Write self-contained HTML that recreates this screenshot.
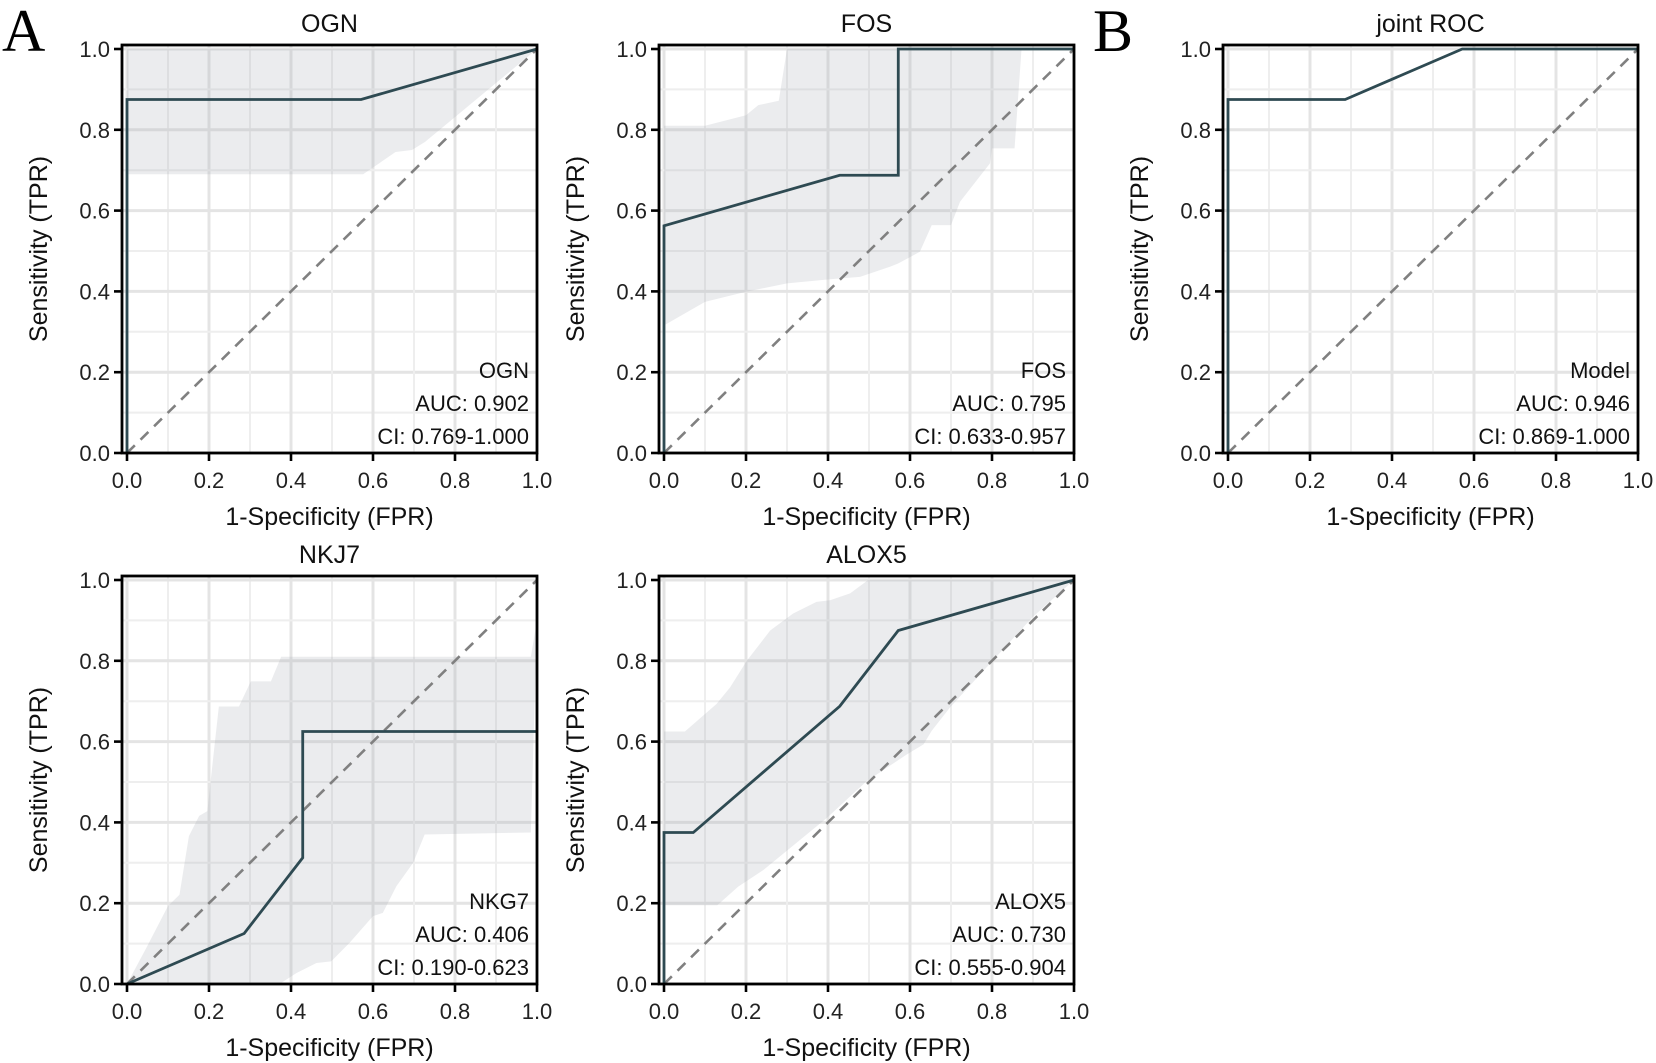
<!DOCTYPE html>
<html><head><meta charset="utf-8">
<style>
html,body{margin:0;padding:0;background:#fff;}
svg{display:block;font-family:"Liberation Sans",sans-serif;}
</style></head>
<body>
<svg id="fig" width="1656" height="1063" viewBox="0 0 1656 1063" xmlns="http://www.w3.org/2000/svg">
<text x="2" y="51" font-family="Liberation Serif, serif" font-size="60" fill="#000">A</text>
<text x="1093" y="51" font-family="Liberation Serif, serif" font-size="60" fill="#000">B</text>
</svg>
<script>
// ---- data ----
const panelTitles = ["OGN", "FOS", "joint ROC", "NKJ7", "ALOX5"];
const panelLabels = ["OGN", "FOS", "Model", "NKG7", "ALOX5"];
const aucValues = ["0.902", "0.795", "0.946", "0.406", "0.730"];
const ciValues = ["0.769-1.000", "0.633-0.957", "0.869-1.000", "0.190-0.623", "0.555-0.904"];
const tickValues = [0, 0.2, 0.4, 0.6, 0.8, 1.0];
const tickLabels = ["0.0", "0.2", "0.4", "0.6", "0.8", "1.0"];

const ognFpr = [0, 0, 0.571, 1];
const ognTpr = [0, 0.875, 0.875, 1];
const fosFpr = [0, 0, 0.4286, 0.5714, 0.5714, 1];
const fosTpr = [0, 0.5625, 0.6875, 0.6875, 1, 1];
const jointFpr = [0, 0, 0.2857, 0.5714, 1];
const jointTpr = [0, 0.875, 0.875, 1, 1];
const nkgFpr = [0, 0.2857, 0.4286, 0.4286, 1];
const nkgTpr = [0, 0.125, 0.3125, 0.625, 0.625];
const aloxFpr = [0, 0, 0.0714, 0.4286, 0.5714, 1];
const aloxTpr = [0, 0.375, 0.375, 0.6875, 0.875, 1];

const ognBandUpper = [[0,1],[1,1]];
const ognBandLower = [[0,0.69],[0.576,0.69],[0.655,0.745],[0.695,0.75],[0.727,0.77],[1,1]];
const fosBandUpper = [[0,0.81],[0.1,0.81],[0.2,0.836],[0.23,0.861],[0.28,0.872],[0.3,1],[0.872,1]];
const fosBandLower = [[0,0.316],[0.1,0.374],[0.2,0.399],[0.3,0.42],[0.405,0.43],[0.478,0.436],[0.551,0.461],[0.571,0.469],[0.624,0.498],[0.653,0.564],[0.70,0.564],[0.722,0.622],[0.795,0.717],[0.8,0.754],[0.855,0.754],[0.872,1]];
const nkgBandUpper = [[0,0],[0.047,0.089],[0.1,0.193],[0.128,0.221],[0.151,0.366],[0.176,0.416],[0.196,0.428],[0.224,0.687],[0.273,0.687],[0.302,0.749],[0.351,0.749],[0.376,0.81],[0.985,0.81],[1,0.9]];
const nkgBandLower = [[0,0],[0.372,0],[0.413,0.027],[0.462,0.052],[0.498,0.056],[0.543,0.102],[0.6,0.168],[0.624,0.176],[0.657,0.242],[0.698,0.3],[0.726,0.37],[0.985,0.375],[1,0.9]];
const aloxBandUpper = [[0,0.625],[0.051,0.625],[0.128,0.693],[0.161,0.734],[0.202,0.8],[0.259,0.875],[0.315,0.917],[0.372,0.946],[0.405,0.95],[0.454,0.967],[0.498,1],[1,1]];
const aloxBandLower = [[0,0.195],[0.13,0.195],[0.181,0.241],[0.242,0.282],[0.397,0.411],[0.494,0.502],[0.592,0.568],[0.633,0.593],[0.653,0.627],[0.698,0.685],[0.795,0.793],[0.9,0.909],[1,1]];

const curvesFpr = [ognFpr, fosFpr, jointFpr, nkgFpr, aloxFpr];
const curvesTpr = [ognTpr, fosTpr, jointTpr, nkgTpr, aloxTpr];
const bandsUpper = [ognBandUpper, fosBandUpper, null, nkgBandUpper, aloxBandUpper];
const bandsLower = [ognBandLower, fosBandLower, null, nkgBandLower, aloxBandLower];

// ---- layout ----
const colX = [127, 664, 1228];
const rowY = [49, 580];
const W = 410, H = 404;
const panelPos = [[0,0],[1,0],[2,0],[0,1],[1,1]];

const NS = "http://www.w3.org/2000/svg";
const svg = document.getElementById("fig");
function mk(tag, attrs, parent) {
  const e = document.createElementNS(NS, tag);
  for (const k in attrs) e.setAttribute(k, attrs[k]);
  (parent || svg).appendChild(e);
  return e;
}

panelPos.forEach((pp, i) => {
  const x0 = colX[pp[0]], y1 = rowY[pp[1]];
  const y0 = y1 + H, x1 = x0 + W;
  const sx = v => x0 + v * W;
  const sy = v => y0 - v * H;
  const g = mk("g", {});
  
  
  const fl = x0 - 5, ft = y1 - 4;
  for (let k = 0; k <= 10; k++) {
    const v = k / 10, major = k % 2 === 0;
    const col = major ? "#e4e4e4" : "#eeeeee", w = major ? 3 : 2;
    const gl = mk("line", {x1: sx(v), x2: sx(v), y1: ft, y2: y0, stroke: col, "stroke-width": w}, g);
    
    
    const gh = mk("line", {x1: fl, x2: x1, y1: sy(v), y2: sy(v), stroke: col, "stroke-width": w}, g);
    
    
  }
  if (bandsUpper[i]) {
    const pts = bandsUpper[i].map(p => sx(p[0]) + "," + sy(p[1]))
      .concat(bandsLower[i].slice().reverse().map(p => sx(p[0]) + "," + sy(p[1])));
    const b = mk("polygon", {points: pts.join(" "), fill: "#a4aab2", "fill-opacity": 0.22}, g);
    
    
  }
  const d = mk("line", {x1: sx(0), y1: sy(0), x2: sx(1), y2: sy(1), stroke: "#808080", "stroke-width": 2.6, "stroke-dasharray": "11,8"}, g);
  
  
  const fp = curvesFpr[i], tp = curvesTpr[i];
  const cpts = fp.map((f, j) => sx(f) + "," + sy(tp[j])).join(" ");
  const c = mk("polyline", {points: cpts, fill: "none", stroke: "#2e4a52", "stroke-width": 2.8, "stroke-linejoin": "miter"}, g);
  
  
  const fr = mk("rect", {x: fl, y: ft, width: x1 - fl, height: y0 - ft, fill: "none", stroke: "#000", "stroke-width": 2.8}, g);
  
  
  tickValues.forEach((v, k) => {
    mk("line", {x1: sx(v), x2: sx(v), y1: y0, y2: y0 + 8, stroke: "#000", "stroke-width": 2.6}, g);
    mk("line", {x1: fl - 8, x2: fl, y1: sy(v), y2: sy(v), stroke: "#000", "stroke-width": 2.6}, g);
    const tx = mk("text", {x: sx(v), y: y0 + 35, "text-anchor": "middle", "font-size": 22, fill: "#222"}, g);
    tx.textContent = tickLabels[k];
    
    
    const ty = mk("text", {x: fl - 12, y: sy(v) + 8, "text-anchor": "end", "font-size": 22, fill: "#222"}, g);
    ty.textContent = tickLabels[k];
    
    
  });
  const t = mk("text", {x: (fl + x1) / 2, y: y1 - 17, "text-anchor": "middle", "font-size": 25, fill: "#111"}, g);
  t.textContent = panelTitles[i];
  
  
  const xt = mk("text", {x: (fl + x1) / 2, y: y0 + 72, "text-anchor": "middle", "font-size": 25, fill: "#111"}, g);
  xt.textContent = "1-Specificity (FPR)";
  
  
  const ycx = x0 - 80, ycy = (ft + y0) / 2;
  const yt = mk("text", {x: ycx, y: ycy, "text-anchor": "middle", "font-size": 25, fill: "#111", transform: "rotate(-90 " + ycx + " " + ycy + ")"}, g);
  yt.textContent = "Sensitivity (TPR)";
  
  
  const lines = [panelLabels[i], "AUC: " + aucValues[i], "CI: " + ciValues[i]];
  lines.forEach((s, k) => {
    const a = mk("text", {x: x1 - 8, y: y0 - 75 + k * 33, "text-anchor": "end", "font-size": 22, fill: "#111"}, g);
    a.textContent = s;
    
    
  });
});
</script>
</body></html>
